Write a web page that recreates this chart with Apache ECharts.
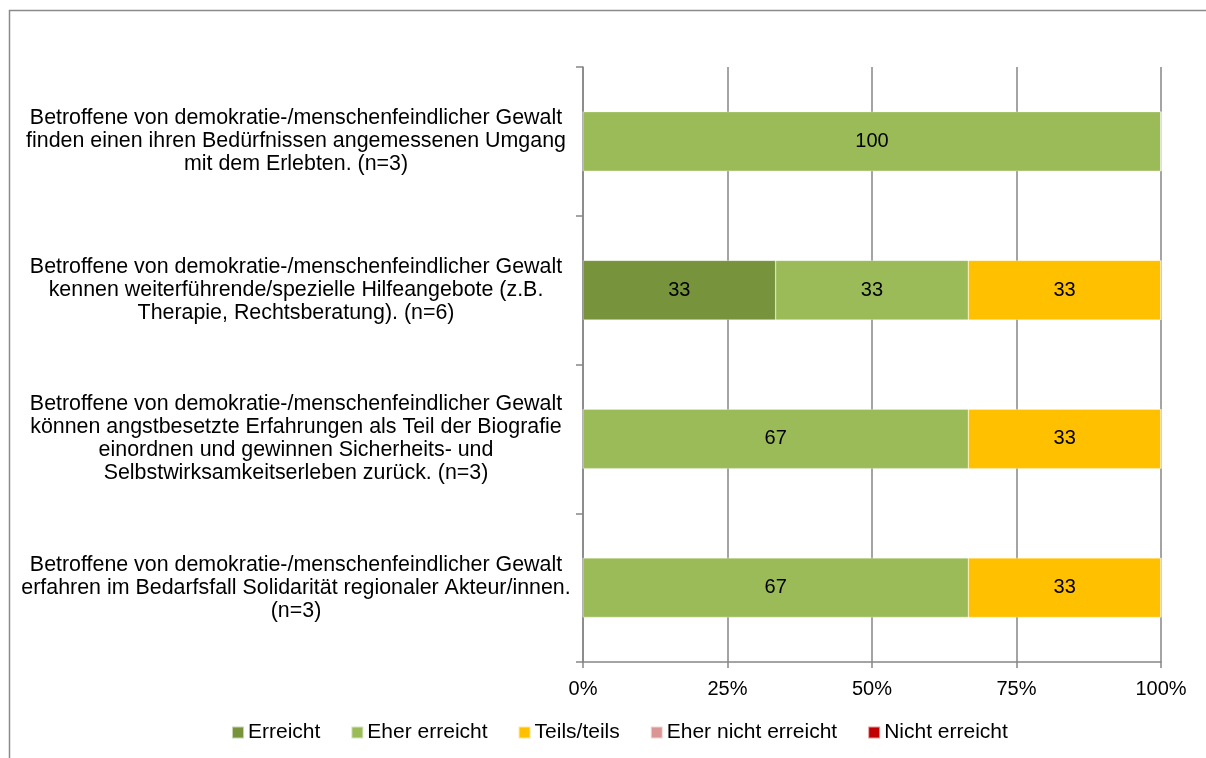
<!DOCTYPE html>
<html>
<head>
<meta charset="utf-8">
<script src="https://cdn.jsdelivr.net/npm/echarts@6/dist/echarts.min.js"></script>
<style>
  html, body { margin: 0; padding: 0; background: #fff; }
  #chart { width: 1206px; height: 758px; }
</style>
</head>
<body>
<div id="chart"></div>
<script>
// categories (top to bottom)
const categories = [
  "Betroffene von demokratie-/menschenfeindlicher Gewalt\nfinden einen ihren Bedürfnissen angemessenen Umgang\nmit dem Erlebten. (n=3)",
  "Betroffene von demokratie-/menschenfeindlicher Gewalt\nkennen weiterführende/spezielle Hilfeangebote (z.B.\nTherapie, Rechtsberatung). (n=6)",
  "Betroffene von demokratie-/menschenfeindlicher Gewalt\nkönnen angstbesetzte Erfahrungen als Teil der Biografie\neinordnen und gewinnen Sicherheits- und\nSelbstwirksamkeitserleben zurück. (n=3)",
  "Betroffene von demokratie-/menschenfeindlicher Gewalt\nerfahren im Bedarfsfall Solidarität regionaler Akteur/innen.\n(n=3)"
];

const seriesNames = ["Erreicht", "Eher erreicht", "Teils/teils", "Eher nicht erreicht", "Nicht erreicht"];
const seriesColors = ["#77933C", "#9BBB59", "#FFC000", "#D99694", "#C00000"];

// percentages per category
const erreicht          = [0, 33.33, 0, 0];
const eherErreicht      = [100, 33.33, 66.67, 66.67];
const teilsTeils        = [0, 33.33, 33.33, 33.33];
const eherNichtErreicht = [0, 0, 0, 0];
const nichtErreicht     = [0, 0, 0, 0];

const xTicks = [0, 25, 50, 75, 100];

const allData = [erreicht, eherErreicht, teilsTeils, eherNichtErreicht, nichtErreicht];
const font = "'Liberation Sans', Arial, sans-serif";
const gray = "#868686";

const chart = echarts.init(document.getElementById("chart"));

const series = seriesNames.map((name, i) => ({
  name: name,
  type: "bar",
  stack: "total",
  barWidth: "40%",
  data: allData[i],
  itemStyle: { color: seriesColors[i], borderColor: "rgba(255,255,255,0.6)", borderWidth: 0.5 },
  label: {
    show: true,
    position: "inside",
    color: "#000",
    fontFamily: font,
    fontSize: 20,
    formatter: p => (p.value > 0 ? Math.round(p.value) : "")
  }
}));

chart.setOption({
  animation: false,
  textStyle: { fontFamily: font },
  graphic: [{
    type: "polyline",
    shape: { points: [[9.5, 758], [9.5, 10.5], [1206, 10.5]] },
    style: { stroke: "#8a8a8a", lineWidth: 1.5, fill: null }
  }],
  grid: { left: 583, right: 45, top: 67, bottom: 96 },
  legend: {
    data: seriesNames,
    left: 231,
    top: 722,
    padding: 0,
    itemWidth: 12,
    itemHeight: 12,
    itemGap: 30,
    icon: "rect",
    textStyle: { fontFamily: font, fontSize: 21, color: "#000", padding: [0, 0, 0, -1] }
  },
  xAxis: {
    type: "value",
    min: xTicks[0],
    max: xTicks[xTicks.length - 1],
    interval: 25,
    axisLine: { show: true, lineStyle: { color: gray, width: 1.5 } },
    axisTick: { show: true, length: 6, lineStyle: { color: gray, width: 1.5 } },
    splitLine: { show: true, lineStyle: { color: gray, width: 1.5 } },
    axisLabel: { formatter: "{value}%", color: "#000", fontSize: 20, fontFamily: font, margin: 17 }
  },
  yAxis: {
    type: "category",
    inverse: true,
    data: categories,
    axisLine: { show: true, lineStyle: { color: gray, width: 1.5 } },
    axisTick: { show: true, length: 7, lineStyle: { color: gray, width: 1.5 } },
    axisLabel: {
      color: "#000",
      fontSize: 21.4,
      fontFamily: font,
      lineHeight: 23,
      align: "center",
      margin: 287
    }
  },
  series: series
});
</script>
</body>
</html>
